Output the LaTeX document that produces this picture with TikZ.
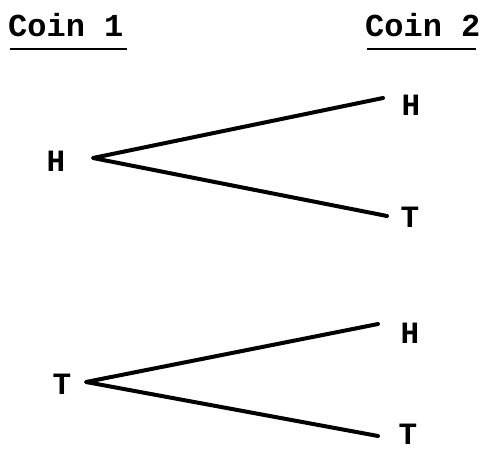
\documentclass[tikz,border=0pt]{standalone}
\usepackage{fontspec}
\setmonofont{Liberation Mono}
\begin{document}
\begin{tikzpicture}[x=1pt,y=-1pt,
  head/.style={font=\ttfamily\bfseries\fontsize{32}{32}\selectfont, inner sep=0pt, anchor=base west},
  lab/.style={font=\ttfamily\bfseries\fontsize{31}{31}\selectfont, inner sep=0pt},
  branch/.style={line width=4pt, line cap=round, line join=round}]
  \useasboundingbox (0,0) rectangle (481,449);

  % column headings
  \node[head] (c1) at (8,37) {Coin 1};
  \node[head] (c2) at (365,37) {Coin 2};
  \draw[line width=1.8pt] (10,49) -- (127,49);
  \draw[line width=1.8pt] (367,49) -- (476,49);

  % first coin outcomes
  \node[lab] (h1) at (56,161) {H};
  \node[lab] (t1) at (62,384) {T};

  % second coin outcomes
  \node[lab] (hh) at (411,105) {H};
  \node[lab] (ht) at (410,217) {T};
  \node[lab] (th) at (410,333) {H};
  \node[lab] (tt) at (408,434) {T};

  % branch points
  \coordinate (v1) at (93,158);
  \coordinate (v2) at (86,382);
  \coordinate (e1) at (383,98);
  \coordinate (e2) at (387,216);
  \coordinate (e3) at (378,324);
  \coordinate (e4) at (378,436);

  \draw[branch] (e1) -- (v1) -- (e2);
  \draw[branch] (e3) -- (v2) -- (e4);
\end{tikzpicture}
\end{document}
